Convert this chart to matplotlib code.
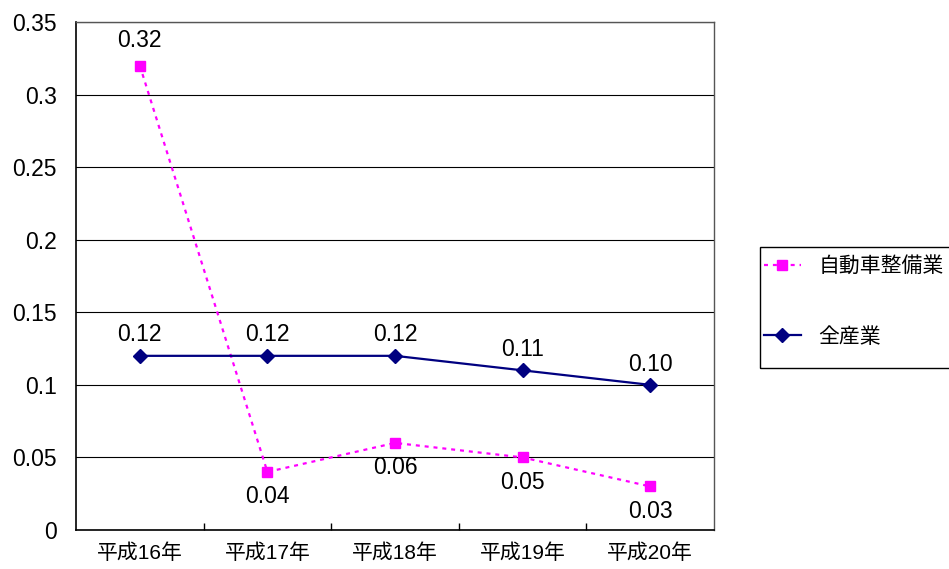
import matplotlib
matplotlib.use("Agg")
import matplotlib.pyplot as plt
from matplotlib.ticker import FixedLocator, NullFormatter
from matplotlib.patches import Rectangle

plt.rcParams['font.family'] = ['Liberation Sans', 'Noto Sans CJK JP', 'DejaVu Sans']

categories = ['平成16年', '平成17年', '平成18年', '平成19年', '平成20年']
auto_repair = [0.32, 0.04, 0.06, 0.05, 0.03]
all_industry = [0.12, 0.12, 0.12, 0.11, 0.10]
auto_labels = ['0.32', '0.04', '0.06', '0.05', '0.03']
all_labels = ['0.12', '0.12', '0.12', '0.11', '0.10']
yticks = [0, 0.05, 0.1, 0.15, 0.2, 0.25, 0.3, 0.35]
ytick_labels = ['0', '0.05', '0.1', '0.15', '0.2', '0.25', '0.3', '0.35']

W, H = 949, 569
fig = plt.figure(figsize=(W / 100, H / 100), dpi=100)
ax = fig.add_axes([76/W, 1-530/H, (714-76)/W, (530-22)/H])

x = list(range(len(categories)))
pink = '#FF00FF'
navy = '#000080'

ax.plot(x, auto_repair, color=pink, lw=1.6, linestyle=(0, (1.8, 2.2)),
        marker='s', markersize=7.5, markeredgecolor=pink, markerfacecolor=pink,
        label='自動車整備業', zorder=3)
ax.plot(x, all_industry, color=navy, lw=1.6, marker='D', markersize=7.5,
        markeredgecolor=navy, markerfacecolor=navy, label='全産業', zorder=3)

for i, (v, t) in enumerate(zip(auto_repair, auto_labels)):
    dy = 18 if i == 0 else -18
    ax.annotate(t, (i, v), xytext=(0, dy), textcoords='offset points',
                ha='center', va='center', fontsize=16.5)
for i, (v, t) in enumerate(zip(all_industry, all_labels)):
    ax.annotate(t, (i, v), xytext=(0, 15), textcoords='offset points',
                ha='center', va='center', fontsize=16.5)

ax.set_xlim(-0.5, len(categories) - 0.5)
ax.set_ylim(0, 0.35)
ax.set_yticks(yticks)
ax.set_yticklabels(ytick_labels, fontsize=16.5)
ax.tick_params(axis='y', length=0, pad=14)

ax.xaxis.set_major_locator(FixedLocator([i + 0.5 for i in range(len(categories) - 1)]))
ax.xaxis.set_major_formatter(NullFormatter())
ax.xaxis.set_minor_locator(FixedLocator(x))
ax.set_xticklabels(categories, minor=True, fontsize=15)
ax.tick_params(axis='x', which='major', direction='in', length=5, width=1, color='black')
ax.tick_params(axis='x', which='minor', length=0, pad=10)

ax.grid(axis='y', color='black', lw=0.8)
ax.set_axisbelow(True)
for s in ['left', 'bottom']:
    ax.spines[s].set_color('black')
    ax.spines[s].set_linewidth(1.2)
for s in ['top', 'right']:
    ax.spines[s].set_color('#555555')
    ax.spines[s].set_linewidth(1.0)

# legend frame
fig.patches.append(Rectangle((760/W, 1-368/H), (W+2-760)/W, (368-247)/H,
                             transform=fig.transFigure, fill=False,
                             edgecolor='black', lw=1.0))
leg = fig.legend(loc='upper left', bbox_to_anchor=(762/W, 1-254/H),
                 frameon=False, fontsize=15,
                 handlelength=1.75, labelspacing=2.45, borderpad=0.1,
                 handletextpad=0.85, borderaxespad=0)

fig.savefig('out.png', dpi=100)
